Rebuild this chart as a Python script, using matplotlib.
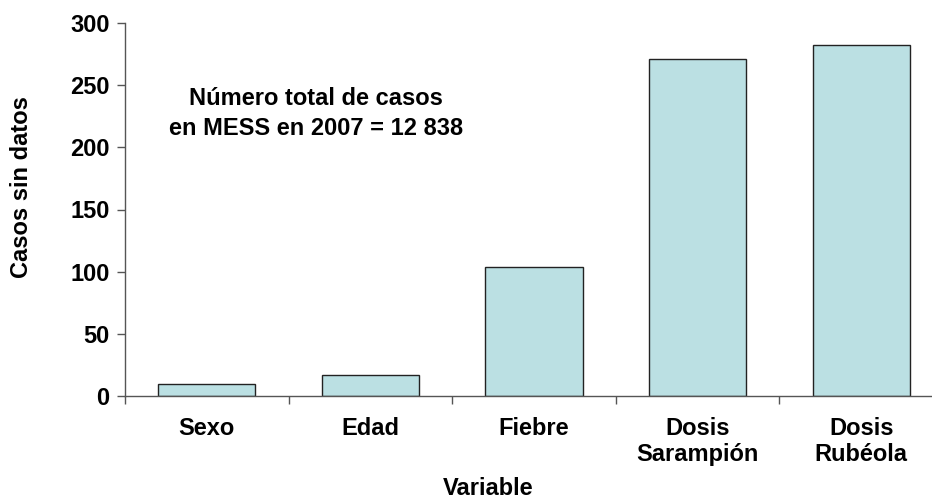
import numpy as np
import matplotlib.pyplot as plt

plt.rcParams['font.family'] = ['Liberation Sans', 'DejaVu Sans']
plt.rcParams['font.weight'] = 'bold'

# data
categories = ['Sexo', 'Edad', 'Fiebre', 'Dosis\nSarampión', 'Dosis\nRubéola']
casos_sin_datos = [10, 17, 104, 271, 282]
yticks = [0, 50, 100, 150, 200, 250, 300]

fs = 17

fig = plt.figure(figsize=(9.32, 5.01), dpi=100)
ax = fig.add_axes([125/932, 105/501, 818/932, 373/501])

x = np.arange(len(categories))
ax.bar(x, casos_sin_datos, width=0.593, color='#BBE0E3', edgecolor='#222222', linewidth=1.0)

ax.set_xlim(-0.5, len(categories) - 0.5)
ax.set_ylim(0, 300)
ax.set_yticks(yticks)
# major ticks between categories, labels on minor ticks at bar centres
ax.set_xticks(np.arange(len(categories) + 1) - 0.5)
ax.set_xticklabels([])
ax.set_xticks(x, minor=True)
ax.set_xticklabels(categories, minor=True, fontsize=fs, fontweight='bold', linespacing=1.2)
ax.tick_params(axis='x', which='minor', length=0, pad=15)
ax.tick_params(axis='x', which='major', length=6, width=1, color='#555555')
ax.tick_params(axis='y', length=6, width=1, color='#555555', labelsize=fs, pad=5)
for lbl in ax.get_yticklabels():
    lbl.set_fontweight('bold')

for s in ['top', 'right']:
    ax.spines[s].set_visible(False)
for s in ['left', 'bottom']:
    ax.spines[s].set_color('#555555')
    ax.spines[s].set_linewidth(1)

ax.text(0.667, 227, 'Número total de casos\nen MESS en 2007 = 12 838', ha='center', va='center',
        fontsize=fs, fontweight='bold', linespacing=1.4)

fig.text(22/932, 1 - 187/501, 'Casos sin datos', rotation=90, ha='center', va='center',
         fontsize=fs, fontweight='bold')
fig.text(488/932, 1/501, 'Variable', ha='center', va='bottom', fontsize=fs, fontweight='bold')

fig.savefig('out.png', dpi=100)
